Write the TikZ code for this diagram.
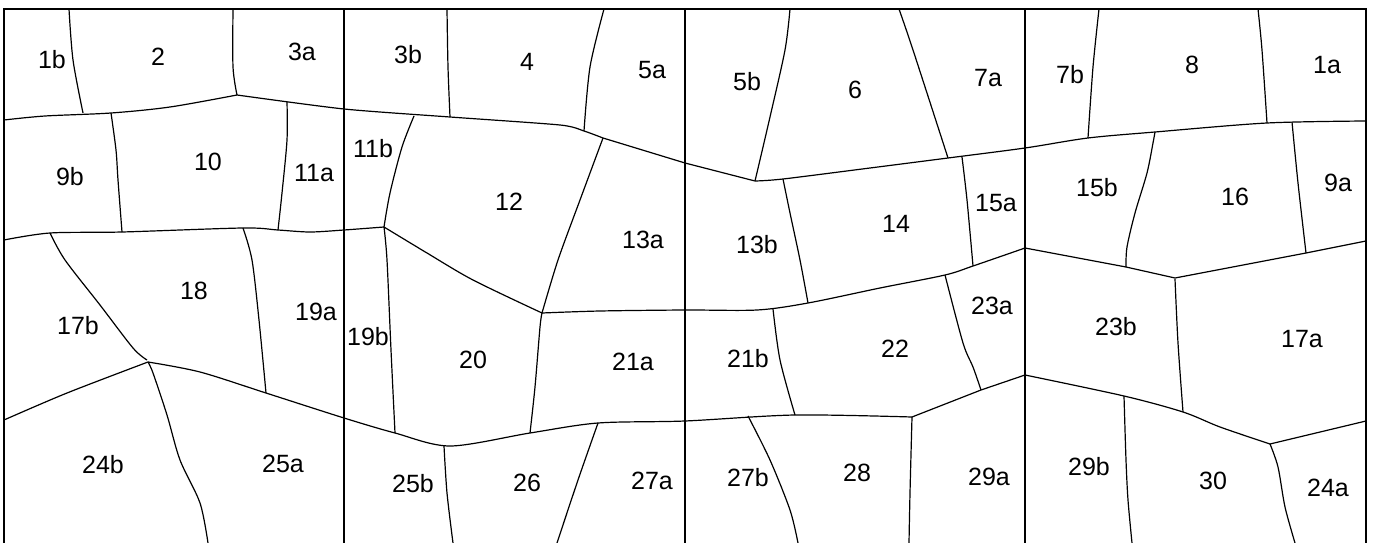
\documentclass[tikz,border=0pt]{standalone}
\usepackage{fontspec}
\setmainfont{Liberation Sans}
\begin{document}
\begin{tikzpicture}[x=1pt,y=-1pt,
  edge/.style={line width=1.2pt,line join=round},
  frame/.style={line width=1.7pt},
  lab/.style={font=\fontsize{25}{25}\selectfont,inner sep=0pt}]
\useasboundingbox (0,0) rectangle (1374,543);
% frame and column dividers
\draw[frame] (4,543) -- (4,9) -- (1366,9) -- (1366,543);
\draw[frame] (344,9) -- (344,543);
\draw[frame] (685,9) -- (685,543);
\draw[frame] (1025,9) -- (1025,543);
% row 1 / row 2 boundary
\draw[edge] plot[smooth,tension=0.5] coordinates {(4,120) (45,116) (111,113) (170,107) (237,95)};
\draw[edge] plot[smooth,tension=0.4] coordinates {(237,95) (344,109) (450,117) (560,125) (584,131) (603,138)};
\draw[edge] (603,138) -- (685,163) -- (755,181);
\draw[edge] plot[smooth,tension=0.5] coordinates {(755,181) (783,179) (870,168) (948,158) (1025,148) (1088,138) (1155,132) (1267,123) (1366,121)};
% row 1 verticals
\draw[edge] plot[smooth] coordinates {(69,9) (73,60) (83,113)};
\draw[edge] plot[smooth] coordinates {(233,9) (233,67) (237,95)};
\draw[edge] plot[smooth] coordinates {(447,9) (448,67) (450,117)};
\draw[edge] plot[smooth] coordinates {(604,9) (590,67) (584,131)};
\draw[edge] plot[smooth] coordinates {(790,9) (785,50) (770,117) (755,181)};
\draw[edge] plot[smooth] coordinates {(899,9) (913,50) (948,158)};
\draw[edge] plot[smooth] coordinates {(1099,9) (1093,67) (1088,138)};
\draw[edge] plot[smooth] coordinates {(1258,9) (1262,50) (1267,123)};
% row 2 / row 3 boundary
\draw[edge] plot[smooth,tension=0.5] coordinates {(4,240) (50,233) (122,232) (243,228) (278,230) (310,232) (344,230) (384,227)};
\draw[edge] plot[smooth,tension=0.5] coordinates {(384,227) (427,253) (473,280) (542,313)};
\draw[edge] plot[smooth,tension=0.5] coordinates {(542,313) (600,311) (685,310) (757,310) (808,303) (880,288) (945,275) (973,266) (1025,248)};
\draw[edge] (1025,248) -- (1126,267) -- (1175,278) -- (1306,253) -- (1366,241);
% row 2 verticals
\draw[edge] plot[smooth] coordinates {(111,113) (116,150) (118,180) (122,232)};
\draw[edge] plot[smooth] coordinates {(287,102) (287,140) (282,193) (278,230)};
\draw[edge] plot[smooth] coordinates {(414,116) (402,147) (390,193) (384,227)};
\draw[edge] plot[smooth] coordinates {(603,138) (580,200) (558,260) (542,313)};
\draw[edge] plot[smooth] coordinates {(783,179) (790,213) (800,260) (808,303)};
\draw[edge] plot[smooth] coordinates {(962,157) (967,200) (973,266)};
\draw[edge] plot[smooth] coordinates {(1155,132) (1153,143) (1147,173) (1135,213) (1127,247) (1126,267)};
\draw[edge] plot[smooth] coordinates {(1292,122) (1298,183) (1306,253)};
% row 3 / row 4 boundary
\draw[edge] plot[smooth,tension=0.5] coordinates {(4,420) (67,393) (148,362)};
\draw[edge] plot[smooth,tension=0.5] coordinates {(148,362) (200,372) (266,393) (344,418) (395,433) (450,446) (530,433) (598,423) (685,421) (795,415) (912,417)};
\draw[edge] (912,417) -- (981,390) -- (1025,375);
\draw[edge] plot[smooth,tension=0.5] coordinates {(1025,375) (1124,396) (1183,412) (1220,427) (1270,444)};
\draw[edge] (1270,444) -- (1366,421);
% row 3 verticals
\draw[edge] plot[smooth] coordinates {(50,233) (65,260) (100,305) (133,348) (147,360)};
\draw[edge] plot[smooth] coordinates {(243,228) (252,260) (259,320) (266,393)};
\draw[edge] plot[smooth] coordinates {(384,227) (387,260) (391,350) (395,433)};
\draw[edge] plot[smooth] coordinates {(542,313) (540,327) (535,387) (530,433)};
\draw[edge] plot[smooth] coordinates {(773,309) (780,360) (795,415)};
\draw[edge] plot[smooth] coordinates {(945,275) (963,343) (973,367) (981,390)};
\draw[edge] plot[smooth] coordinates {(1175,279) (1178,343) (1183,412)};
% row 4 verticals
\draw[edge] plot[smooth] coordinates {(148,362) (153,373) (167,415) (180,460) (200,503) (208,543)};
\draw[edge] plot[smooth] coordinates {(444,446) (447,493) (453,543)};
\draw[edge] plot[smooth] coordinates {(598,423) (578,480) (557,543)};
\draw[edge] plot[smooth] coordinates {(748,416) (770,460) (790,510) (798,543)};
\draw[edge] plot[smooth] coordinates {(912,417) (910,493) (909,543)};
\draw[edge] plot[smooth] coordinates {(1124,396) (1126,460) (1128,500) (1132,543)};
\draw[edge] plot[smooth] coordinates {(1270,444) (1278,467) (1285,507) (1295,543)};
% labels row 1
\node[lab] (n1b) at (52,60) {1b};
\node[lab] (n2) at (158,57) {2};
\node[lab] (n3a) at (302,52) {3a};
\node[lab] (n3b) at (408,55) {3b};
\node[lab] (n4) at (527,62) {4};
\node[lab] (n5a) at (652,70) {5a};
\node[lab] (n5b) at (747,82) {5b};
\node[lab] (n6) at (855,90) {6};
\node[lab] (n7a) at (988,78) {7a};
\node[lab] (n7b) at (1070,75) {7b};
\node[lab] (n8) at (1192,65) {8};
\node[lab] (n1a) at (1327,65) {1a};
% labels row 2
\node[lab] (n9b) at (70,177) {9b};
\node[lab] (n10) at (208,162) {10};
\node[lab] (n11a) at (314,173) {11a};
\node[lab] (n11b) at (373,149) {11b};
\node[lab] (n12) at (509,202) {12};
\node[lab] (n13a) at (643,240) {13a};
\node[lab] (n13b) at (757,245) {13b};
\node[lab] (n14) at (896,224) {14};
\node[lab] (n15a) at (996,203) {15a};
\node[lab] (n15b) at (1097,188) {15b};
\node[lab] (n16) at (1235,197) {16};
\node[lab] (n9a) at (1338,183) {9a};
% labels row 3
\node[lab] (n17b) at (78,326) {17b};
\node[lab] (n18) at (194,291) {18};
\node[lab] (n19a) at (316,312) {19a};
\node[lab] (n19b) at (368,337) {19b};
\node[lab] (n20) at (473,360) {20};
\node[lab] (n21a) at (633,362) {21a};
\node[lab] (n21b) at (748,359) {21b};
\node[lab] (n22) at (895,349) {22};
\node[lab] (n23a) at (992,306) {23a};
\node[lab] (n23b) at (1116,327) {23b};
\node[lab] (n17a) at (1302,339) {17a};
% labels row 4
\node[lab] (n24b) at (103,465) {24b};
\node[lab] (n25a) at (283,464) {25a};
\node[lab] (n25b) at (413,484) {25b};
\node[lab] (n26) at (527,483) {26};
\node[lab] (n27a) at (652,481) {27a};
\node[lab] (n27b) at (748,478) {27b};
\node[lab] (n28) at (857,473) {28};
\node[lab] (n29a) at (989,477) {29a};
\node[lab] (n29b) at (1089,467) {29b};
\node[lab] (n30) at (1213,481) {30};
\node[lab] (n24a) at (1328,488) {24a};
\end{tikzpicture}
\end{document}
